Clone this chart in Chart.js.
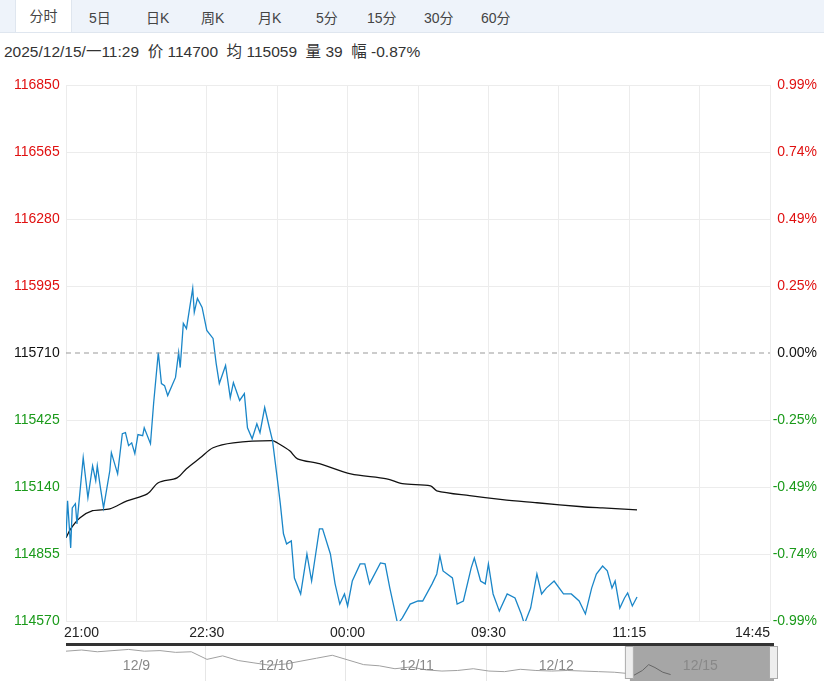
<!DOCTYPE html>
<html><head><meta charset="utf-8">
<script src="https://cdn.jsdelivr.net/npm/chart.js@4/dist/chart.umd.min.js"></script>
<style>
body{margin:0;width:824px;height:683px;background:#fff;font-family:"Liberation Sans","Noto Sans CJK SC",sans-serif;position:relative;overflow:hidden}
#tabs{position:absolute;left:0;top:0;width:824px;height:32px;background:#eef3fa;border-bottom:1px solid #dfe6ef}
#tabs span{position:absolute;top:7px;font-size:14px;color:#444}
#tabs .on{background:#fff;top:0;height:32px;line-height:32px;width:55px;text-align:center;border-left:1px solid #dfe6ef;border-right:1px solid #dfe6ef}
#info{position:absolute;left:4px;top:39px;font-size:15.5px;color:#333}
#main{position:absolute;left:0;top:70px}
#nav{position:absolute;left:0;top:643px}
</style></head><body>
<div id="tabs">
<span class="on" style="left:15px">分时</span>
<span style="left:89px">5日</span><span style="left:146px">日K</span><span style="left:201px">周K</span>
<span style="left:258px">月K</span><span style="left:316px">5分</span><span style="left:367px">15分</span>
<span style="left:424px">30分</span><span style="left:481px">60分</span>
</div>
<div id="info">2025/12/15/一11:29&nbsp; 价 114700&nbsp; 均 115059&nbsp; 量 39&nbsp; 幅 -0.87%</div>
<canvas id="main" width="824" height="573"></canvas>
<canvas id="nav" width="824" height="38"></canvas>
<script>
// ---- data ----
const prevClose = 115710;
const priceTicks = [114570, 114855, 115140, 115425, 115710, 115995, 116280, 116565, 116850];
const pctTicks = ['-0.99%', '-0.74%', '-0.49%', '-0.25%', '0.00%', '0.25%', '0.49%', '0.74%', '0.99%'];
const timeLabels = ['21:00', '22:30', '00:00', '09:30', '11:15', '14:45'];
const timeLabelMinutes = [0, 90, 180, 270, 360, 450];

const priceMinutes = [0,1,3,4,6,7,11,14,17,19,20,22,24,28,29,33,36,38,40,42,44,46,49,50,54,56,59,61,63,65,70,72,73,75,77,79,81,82,84,87,90,94,96,98,102,105,107,111,114,116,119,122,124,127,130,132,135,137,139,141,144,146,150,154,157,162,164,169,172,175,178,180,183,188,191,194,201,204,207,212,215,220,225,228,234,237,239,241,247,250,254,259,261,265,268,270,273,277,282,287,291,293,297,301,304,307,312,318,323,328,332,336,339,343,346,349,351,354,357,359,362,365];
const priceValues = [114924,115081,114881,115051,115069,114983,115265,115094,115230,115167,115230,115137,115051,115209,115286,115196,115367,115371,115316,115328,115282,115363,115358,115392,115324,115495,115712,115580,115571,115529,115606,115712,115648,115836,115814,115900,115985,115883,115942,115904,115806,115772,115665,115580,115657,115520,115584,115508,115537,115392,115345,115409,115371,115478,115392,115337,115179,115068,114941,114898,114911,114753,114685,114855,114740,114962,114962,114855,114728,114642,114685,114634,114740,114813,114813,114728,114817,114813,114710,114557,114583,114642,114655,114655,114728,114770,114847,114783,114753,114642,114655,114796,114838,114740,114728,114813,114685,114612,114685,114668,114600,114557,114625,114770,114685,114710,114740,114685,114685,114655,114600,114710,114770,114804,114783,114710,114740,114625,114668,114689,114634,114672];

const avgMinutes = [0,3,9,17,28,39,52,59,71,77,86,94,107,132,135,143,148,162,182,205,215,233,237,258,279,301,330,343,365];
const avgValues = [114924,114962,115009,115039,115047,115081,115111,115158,115179,115218,115265,115307,115328,115337,115328,115294,115260,115239,115196,115175,115154,115145,115124,115103,115086,115073,115056,115051,115043];

const navDays = ['12/9', '12/10', '12/11', '12/12', '12/15'];
const navX = [0,10,20,30,40,50,60,70,80,90,100,110,120,130,140,150,160,170,180,190,200,210,220,230,240,250,260,270,280,290,300,310,320,330,340,350,358];
const navValues = [117.6,117.8,117.5,117.7,117.9,117.6,117.7,117.4,117.5,116.2,116.8,116.0,115.6,115.2,115.4,115.9,116.4,116.9,116.1,115.3,115.1,114.6,114.9,114.4,114.2,114.3,114.6,114.2,114.1,114.5,114.3,114.2,114.3,114.2,114.1,114.0,113.8];
const navTodayX = [362, 368, 372, 376, 381, 386];
const navTodayValues = [113.4, 114.3, 115.3, 114.8, 114.0, 113.6];

const toXY = (xs, ys) => xs.map((x, i) => ({x: x, y: ys[i]}));
const FONT = '"Liberation Sans","Noto Sans CJK SC",sans-serif';

// draws axis labels through the chart's own scales
const labelPlugin = {
    id: 'labels',
    afterDraw(chart) {
        const c = chart.ctx, y = chart.scales.y, x = chart.scales.x;
        c.save();
        c.font = '14px ' + FONT;
        c.textBaseline = 'middle';
        priceTicks.forEach((v, i) => {
            const py = y.getPixelForValue(v);
            c.fillStyle = v > prevClose ? '#e01010' : (v < prevClose ? '#1a9a1a' : '#111');
            c.textAlign = 'left';
            c.fillText(v, 14, py);
            c.textAlign = 'right';
            c.fillText(pctTicks[i], 817, py);
        });
        // dashed prev close line
        const pc = y.getPixelForValue(prevClose);
        c.strokeStyle = '#999'; c.setLineDash([5, 4]); c.lineWidth = 1;
        c.beginPath(); c.moveTo(chart.chartArea.left, pc); c.lineTo(chart.chartArea.right, pc); c.stroke();
        c.setLineDash([]);
        c.fillStyle = '#222'; c.font = '14px ' + FONT; c.textBaseline = 'top';
        timeLabels.forEach((t, i) => {
            const px = x.getPixelForValue(timeLabelMinutes[i]);
            c.textAlign = i === 0 ? 'left' : (i === timeLabels.length - 1 ? 'right' : 'center');
            c.fillText(t, i === 0 ? px - 2 : px, chart.chartArea.bottom + 5);
        });
        c.restore();
    }
};

new Chart(document.getElementById('main'), {
    type: 'line',
    data: {
        datasets: [
            { data: toXY(priceMinutes, priceValues), borderColor: '#1a86c8', borderWidth: 1.3, pointRadius: 0, tension: 0 },
            { data: toXY(avgMinutes, avgValues), borderColor: '#111', borderWidth: 1.3, pointRadius: 0, tension: 0.3 }
        ]
    },
    plugins: [labelPlugin],
    options: {
        responsive: false, animation: false,
        layout: { padding: { left: 66, right: 54, top: 15, bottom: 22 } },
        plugins: { legend: { display: false }, tooltip: { enabled: false } },
        scales: {
            x: { type: 'linear', min: 0, max: 450, ticks: { display: false, stepSize: 45 },
                 grid: { color: '#ececec', drawTicks: false }, border: { display: false } },
            y: { min: 114570, max: 116850, ticks: { display: false, stepSize: 285 },
                 grid: { color: c => c.tick.value === prevClose ? 'rgba(0,0,0,0)' : '#ececec', drawTicks: false },
                 border: { display: false } }
        }
    }
});

const navPlugin = {
    id: 'nav',
    beforeDatasetsDraw(chart) {
        const c = chart.ctx, a = chart.chartArea, x = chart.scales.x;
        c.save();
        c.fillStyle = '#a6a6a6';
        const l = x.getPixelForValue(360), r = x.getPixelForValue(452);
        c.fillRect(l, a.top, r - l, a.bottom - a.top);
        c.strokeStyle = '#e6e6e6'; c.lineWidth = 1;
        [89, 178, 268].forEach(m => {
            const px = Math.round(x.getPixelForValue(m)) + 0.5;
            c.beginPath(); c.moveTo(px, a.top); c.lineTo(px, a.bottom); c.stroke();
        });
        c.restore();
    },
    afterDraw(chart) {
        const c = chart.ctx, a = chart.chartArea, x = chart.scales.x;
        c.save();
        c.fillStyle = '#333'; c.fillRect(a.left, 0, x.getPixelForValue(452) - a.left, 3);
        c.fillStyle = '#888'; c.font = '14px ' + FONT; c.textAlign = 'center'; c.textBaseline = 'middle';
        [45, 134, 224, 313, 405].forEach((m, i) => c.fillText(navDays[i], x.getPixelForValue(m), 23));
        // handles
        [360, 452].forEach(m => {
            const px = x.getPixelForValue(m);
            c.fillStyle = '#eee'; c.strokeStyle = '#aaa';
            c.fillRect(px - 4, 3, 8, 33); c.strokeRect(px - 4.5, 3.5, 8, 32);
        });
        c.restore();
    }
};

new Chart(document.getElementById('nav'), {
    type: 'line',
    data: {
        datasets: [
            { data: toXY(navX, navValues), borderColor: '#a0a0a0', borderWidth: 1, pointRadius: 0 },
            { data: toXY(navTodayX, navTodayValues), borderColor: '#666', borderWidth: 1, pointRadius: 0 }
        ]
    },
    plugins: [navPlugin],
    options: {
        responsive: false, animation: false,
        layout: { padding: { left: 66, right: 50, top: 0, bottom: 0 } },
        plugins: { legend: { display: false }, tooltip: { enabled: false } },
        scales: {
            x: { type: 'linear', min: 0, max: 452, display: false },
            y: { min: 112.5, max: 119, display: false }
        }
    }
});
</script>
</body></html>
